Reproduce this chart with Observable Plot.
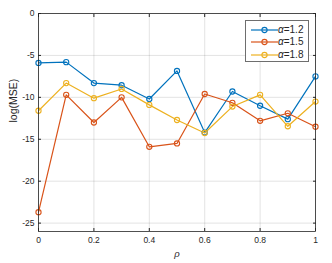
<!DOCTYPE html>
<html><head><meta charset="utf-8">
<script src="https://cdn.jsdelivr.net/npm/d3@7"></script>
<script src="https://cdn.jsdelivr.net/npm/@observablehq/plot@0.6"></script>
<style>
body{margin:0;background:#fff;}
#wrap{position:relative;width:332px;height:263px;font-family:"Liberation Sans",Arial,sans-serif;color:#262626;}
#wrap svg{display:block;}
#legend{position:absolute;left:245px;top:20px;width:64px;height:42px;border:1px solid #6e6e6e;background:#fff;box-sizing:border-box;}
.row{position:absolute;left:0;height:12px;width:62px;}
.row svg{position:absolute;left:5px;top:0;}
.row span{position:absolute;left:32px;top:0;font-size:10px;line-height:12px;white-space:nowrap;}
</style></head><body><div id="wrap"></div>
<script>
const rho = [0, 0.1, 0.2, 0.3, 0.4, 0.5, 0.6, 0.7, 0.8, 0.9, 1];
const mse12 = [-5.9, -5.8, -8.3, -8.55, -10.2, -6.85, -14.2, -9.3, -11.0, -12.6, -7.5];
const mse15 = [-23.7, -9.7, -13.0, -10.0, -15.9, -15.5, -9.6, -10.65, -12.8, -11.9, -13.5];
const mse18 = [-11.6, -8.3, -10.1, -9.0, -10.9, -12.7, -14.25, -11.1, -9.7, -13.45, -10.5];
const seriesNames = ["α=1.2", "α=1.5", "α=1.8"];
const seriesLabels = ["1.2", "1.5", "1.8"];
const colors = ["#0072BD", "#D95319", "#EDB120"];
const xTicks = [0, 0.2, 0.4, 0.6, 0.8, 1];
const yTicks = [0, -5, -10, -15, -20, -25];

const allSeries = [mse12, mse15, mse18];
const data = [];
allSeries.forEach((vals, i) => vals.forEach((v, j) => data.push({rho: rho[j], value: v, series: seriesNames[i]})));

const ink = "#262626";
const chart = Plot.plot({
  width: 332, height: 263,
  marginLeft: 38, marginRight: 17, marginTop: 13, marginBottom: 32,
  style: {fontSize: "8.5px", fontFamily: '"Liberation Sans", Arial, sans-serif', color: ink, background: "#fff"},
  x: {domain: [0, 1]},
  y: {domain: [-26, 0]},
  color: {domain: seriesNames, range: colors},
  marks: [
    Plot.gridX(xTicks, {stroke: ink, strokeOpacity: 0.13}),
    Plot.gridY(yTicks, {stroke: ink, strokeOpacity: 0.13}),
    Plot.line(data, {x: "rho", y: "value", z: "series", stroke: "series", strokeWidth: 1.2}),
    Plot.dot(data, {x: "rho", y: "value", stroke: "series", r: 2.6, strokeWidth: 1.1, fill: "none"}),
    Plot.frame({stroke: ink, strokeWidth: 0.8}),
    Plot.axisX({anchor: "bottom", ticks: xTicks, tickSize: -3, tickPadding: 8, tickFormat: d3.format("~g"), label: null}),
    Plot.axisX({anchor: "top", ticks: xTicks, tickSize: -3, tickFormat: () => "", label: null}),
    Plot.axisY({anchor: "left", ticks: yTicks, tickSize: -3, tickPadding: 7, tickFormat: d => String(d), label: null}),
    Plot.axisY({anchor: "right", ticks: yTicks, tickSize: -3, tickFormat: () => "", label: null}),
    Plot.text(["log(MSE)"], {text: d => d, frameAnchor: "left", dx: -25, rotate: -90, fontSize: 10.5, fill: ink}),
    Plot.text(["ρ"], {text: d => d, frameAnchor: "bottom", dy: 25, fontSize: 9.5, fontStyle: "italic", fill: ink})
  ]
});
const wrap = document.getElementById("wrap");
wrap.appendChild(chart);

const legend = document.createElement("div");
legend.id = "legend";
const rowTops = [2.5, 15, 27.5];
seriesNames.forEach((name, i) => {
  const row = document.createElement("div");
  row.className = "row";
  row.style.top = rowTops[i] + "px";
  row.innerHTML = `<svg width="27" height="12"><line x1="0" y1="6" x2="27" y2="6" stroke="${colors[i]}" stroke-width="1.2"/><circle cx="13.5" cy="6" r="2.6" fill="none" stroke="${colors[i]}" stroke-width="1.1"/></svg><span><i>α</i>=${seriesLabels[i]}</span>`;
  legend.appendChild(row);
});
wrap.appendChild(legend);
</script>
</body></html>
